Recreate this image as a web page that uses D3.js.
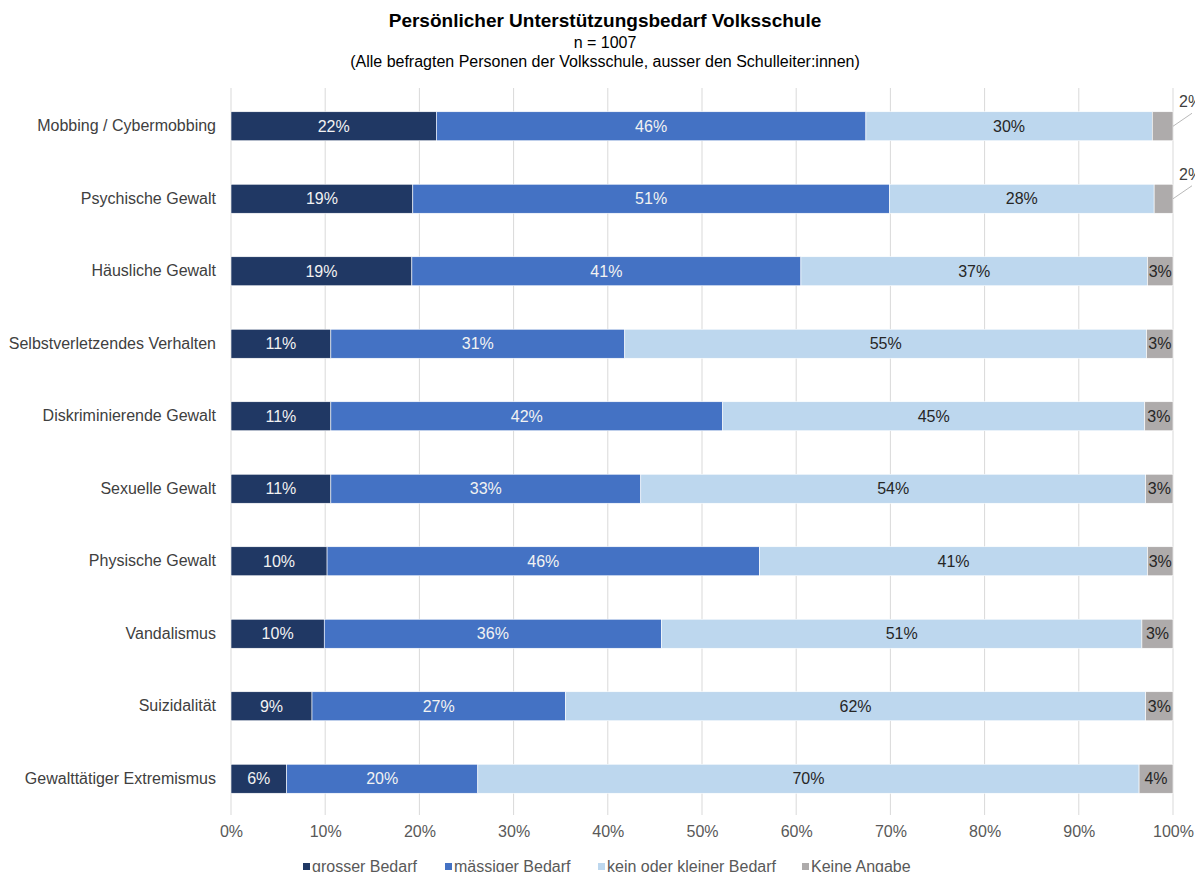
<!DOCTYPE html>
<html>
<head>
<meta charset="utf-8">
<script src="https://cdn.jsdelivr.net/npm/d3@7"></script>
<style>
  body { margin: 0; background: #fff; }
  svg { display: block; font-family: "Liberation Sans", Arial, sans-serif; }
</style>
</head>
<body>
<div id="chart"></div>
<script>
const categories = [
    'Mobbing / Cybermobbing',
    'Psychische Gewalt',
    'Häusliche Gewalt',
    'Selbstverletzendes Verhalten',
    'Diskriminierende Gewalt',
    'Sexuelle Gewalt',
    'Physische Gewalt',
    'Vandalismus',
    'Suizidalität',
    'Gewalttätiger Extremismus'
];
const seriesNames = ['grosser Bedarf', 'mässiger Bedarf', 'kein oder kleiner Bedarf', 'Keine Angabe'];
const grosser  = [21.8, 19.3, 19.2, 10.6, 10.6, 10.6, 10.2, 9.9, 8.6, 5.9];
const maessig  = [45.6, 50.6, 41.3, 31.2, 41.6, 32.9, 45.9, 35.8, 26.9, 20.3];
const kein     = [30.4, 28.1, 36.8, 55.4, 44.8, 53.6, 41.2, 51.0, 61.6, 70.2];
const keineAng = [2.2, 2.0, 2.7, 2.8, 3.0, 2.9, 2.7, 3.3, 2.9, 3.6];
const xTicks = [0, 10, 20, 30, 40, 50, 60, 70, 80, 90, 100];

const COLORS = ['#203864', '#4472c4', '#bdd7ee', '#aeabab'];
const LABEL_COLORS = ['#f2f2f2', '#f2f2f2', '#262626', '#262626'];
const FONT = '"Liberation Sans", Arial, sans-serif';

const width = 1195, height = 872;
const MARGIN = { left: 231, right: 22, top: 90, bottom: 57 };
const iw = width - MARGIN.left - MARGIN.right;

const svg = d3.select('#chart').append('svg')
    .attr('width', width).attr('height', height)
    .attr('viewBox', `0 0 ${width} ${height}`);

// Title block
const cx = 605;
svg.append('text').attr('x', cx).attr('y', 27).attr('text-anchor', 'middle')
    .attr('font-size', 19).attr('font-weight', 'bold').attr('fill', '#000')
    .text('Persönlicher Unterstützungsbedarf Volksschule');
svg.append('text').attr('x', cx).attr('y', 48).attr('text-anchor', 'middle')
    .attr('font-size', 16).attr('fill', '#000').text('n = 1007');
svg.append('text').attr('x', cx).attr('y', 67).attr('text-anchor', 'middle')
    .attr('font-size', 16).attr('fill', '#000')
    .text('(Alle befragten Personen der Volksschule, ausser den Schulleiter:innen)');

const x = d3.scaleLinear().domain([0, 100]).range([MARGIN.left, MARGIN.left + iw]);
const y = d3.scaleBand().domain(categories).range([MARGIN.top, height - MARGIN.bottom]).paddingInner(0.6).paddingOuter(0.3);

// Gridlines
svg.append('g').selectAll('line').data(xTicks).join('line')
    .attr('x1', (d) => x(d)).attr('x2', (d) => x(d))
    .attr('y1', MARGIN.top - 2).attr('y2', height - MARGIN.bottom)
    .attr('stroke', '#d9d9d9').attr('stroke-width', 1);

// X axis labels
svg.append('g')
    .attr('transform', `translate(0,${height - MARGIN.bottom})`)
    .call(d3.axisBottom(x).tickValues(xTicks).tickFormat((d) => d + '%').tickSize(0).tickPadding(11))
    .call((sel) => sel.select('.domain').remove())
    .call((sel) => sel.selectAll('text').attr('font-size', 16).attr('fill', '#595959')
        .attr('font-family', FONT));

// Y axis labels
svg.append('g')
    .attr('transform', `translate(${MARGIN.left},0)`)
    .call(d3.axisLeft(y).tickSize(0).tickPadding(15))
    .call((sel) => sel.select('.domain').remove())
    .call((sel) => sel.selectAll('text').attr('font-size', 16).attr('fill', '#404040')
        .attr('font-family', FONT));

// Stack
const rows = categories.map((c, i) => ({ cat: c, s0: grosser[i], s1: maessig[i], s2: kein[i], s3: keineAng[i] }));
const stack = d3.stack().keys(['s0', 's1', 's2', 's3'])(rows);

const layers = svg.append('g').selectAll('g').data(stack).join('g')
    .attr('fill', (d, i) => COLORS[i]);

layers.selectAll('rect').data((d) => d).join('rect')
    .attr('x', (d) => x(d[0]))
    .attr('y', (d) => y(d.data.cat))
    .attr('width', (d) => x(d[1]) - x(d[0]))
    .attr('height', y.bandwidth())
    .attr('stroke', '#ffffff').attr('stroke-width', 0.6);

// Labels
stack.forEach((layer, li) => {
    layer.forEach((d) => {
        const v = d[1] - d[0];
        const lab = Math.round(v) + '%';
        const yc = y(d.data.cat) + y.bandwidth() / 2;
        if (li === 3 && Math.round(v) < 3) {
            // small value: label outside with leader line
            const x0 = x(d[1]);
            svg.append('line')
                .attr('x1', x0).attr('y1', yc)
                .attr('x2', x0 + 19).attr('y2', yc - 13)
                .attr('stroke', '#a6a6a6').attr('stroke-width', 0.8);
            svg.append('text').attr('x', x0 + 6).attr('y', yc - 19)
                .attr('font-size', 16).attr('fill', '#404040').text(lab);
        } else {
            svg.append('text')
                .attr('x', (x(d[0]) + x(d[1])) / 2).attr('y', yc)
                .attr('dy', '0.35em').attr('text-anchor', 'middle')
                .attr('font-size', 16).attr('fill', LABEL_COLORS[li]).text(lab);
        }
    });
});

// Legend
const legendX = [303, 445, 598, 802];
const legend = svg.append('g').selectAll('g').data(seriesNames).join('g')
    .attr('transform', (d, i) => `translate(${legendX[i]},872)`);
legend.append('rect').attr('x', 0).attr('y', -9).attr('width', 7).attr('height', 7)
    .attr('fill', (d, i) => COLORS[i]);
legend.append('text').attr('x', 9).attr('y', 0)
    .attr('font-size', 16).attr('fill', '#595959').text((d) => d);
</script>
</body>
</html>
